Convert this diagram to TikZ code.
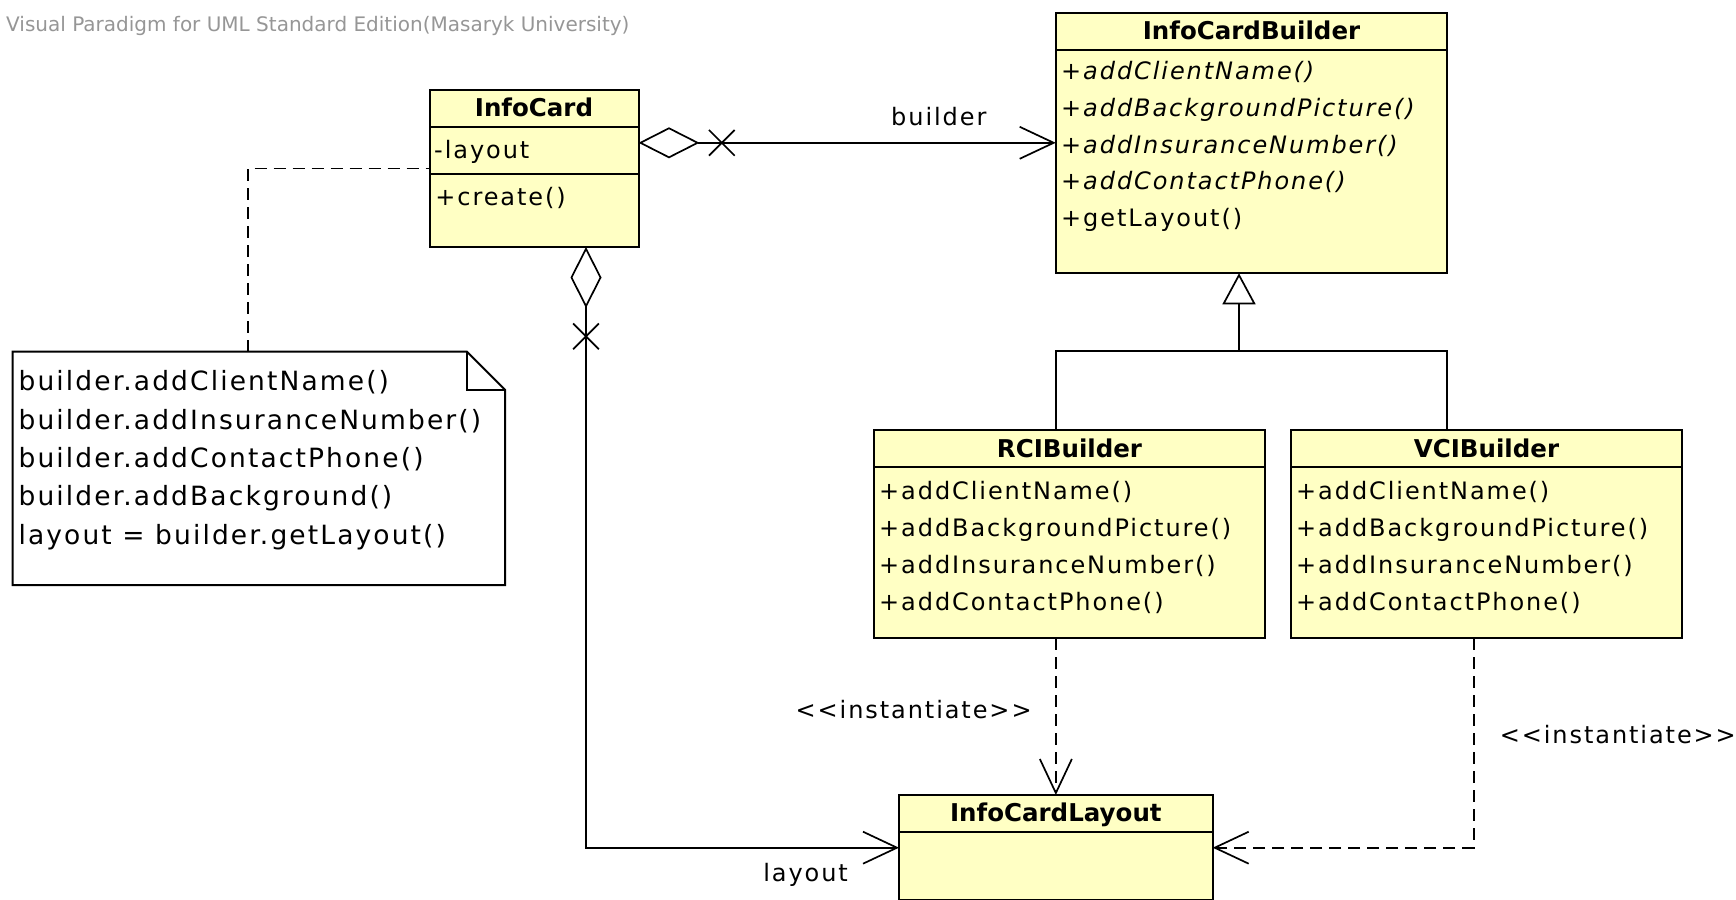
\documentclass[tikz,border=0pt]{standalone}
\usepackage{fontspec}
\usepackage{tikz}
\usetikzlibrary{arrows.meta,shapes.misc}
\newfontfamily\umlfont{DejaVu Sans}[LetterSpace=8]
\newfontfamily\umlhead{DejaVu Sans}
\definecolor{classyellow}{RGB}{255,255,196}
\definecolor{vpgray}{RGB}{150,150,150}
\tikzstyle{cls} = [draw=black, fill=classyellow, line width=2pt, inner sep=0pt, outer sep=0pt, anchor=north west]
\tikzstyle{clsname} = [font={\umlhead\bfseries\fontsize{24.5}{28}\selectfont}, inner sep=0pt, anchor=base]
\tikzstyle{member} = [font={\umlfont\fontsize{24}{36.8}\selectfont}, inner sep=0pt, anchor=base west, align=left]
\tikzstyle{lbl} = [font={\umlfont\fontsize{24}{28}\selectfont}, inner sep=0pt, anchor=base]
\tikzstyle{notetext} = [font={\umlfont\fontsize{26.5}{38.3}\selectfont}, inner sep=0pt, anchor=base west, align=left]
\tikzstyle{conn} = [line width=1.7pt]
\tikzstyle{nav} = [conn, -{Straight Barb[length=34pt,width=32pt]}]
\tikzstyle{dep} = [nav, dash pattern=on 12pt off 7pt]
\tikzstyle{aggr} = [conn, {Diamond[fill=white,length=61pt,width=31pt]}-{Straight Barb[length=34pt,width=32pt]}]
\tikzstyle{inherit} = [conn, -{Triangle[fill=white,length=31pt,width=33pt]}]
\tikzstyle{noteline} = [conn, dash pattern=on 12pt off 7pt]
\tikzstyle{xmark} = [cross out, draw, line width=1.7pt, minimum size=24pt, inner sep=0pt]

\begin{document}
\begin{tikzpicture}[x=1pt,y=-1pt]
  \useasboundingbox (0,0) rectangle (1736,899);
  \node[anchor=base west, inner sep=0pt, text=vpgray, font={\umlhead\fontsize{20}{24}\selectfont}] (vp) at (6,31.7) {Visual Paradigm for UML Standard Edition(Masaryk University)};

  % classes
  \node[cls, minimum width=209pt, minimum height=157pt] (card) at (429.5,90) {};
  \node[cls, minimum width=391.6pt, minimum height=260.6pt] (builder) at (1055.7,12.7) {};
  \node[cls, minimum width=391pt, minimum height=208.3pt] (rci) at (874,430) {};
  \node[cls, minimum width=391pt, minimum height=208.3pt] (vci) at (1291,430) {};
  \node[cls, minimum width=313.7pt, minimum height=105.4pt] (layout) at (899,795) {};

  % InfoCard
  \draw[line width=2pt] ([yshift=-36.7pt]card.north west) -- ([yshift=-36.7pt]card.north east);
  \draw[line width=2pt] ([yshift=-83.7pt]card.north west) -- ([yshift=-83.7pt]card.north east);
  \node[clsname] (cardname) at ([yshift=-26.7pt]card.north) {InfoCard};
  \node[member] (cardattr) at ([xshift=4.5pt,yshift=-68.3pt]card.north west) {-layout};
  \node[member] (cardops) at ([xshift=5.7pt,yshift=-115pt]card.north west) {+create()};

  % InfoCardBuilder
  \draw[line width=2pt] ([yshift=-37.3pt]builder.north west) -- ([yshift=-37.3pt]builder.north east);
  \node[clsname] (buildername) at ([yshift=-26.6pt]builder.north) {InfoCardBuilder};
  \node[member] (builderops) at ([xshift=5.3pt,yshift=-214pt]builder.north west) {\textit{+addClientName()}\\\textit{+addBackgroundPicture()}\\\textit{+addInsuranceNumber()}\\\textit{+addContactPhone()}\\+getLayout()};

  % RCIBuilder, VCIBuilder
  \draw[line width=2pt] ([yshift=-37pt]rci.north west) -- ([yshift=-37pt]rci.north east);
  \node[clsname] (rciname) at ([yshift=-27pt]rci.north) {RCIBuilder};
  \node[member] (rciops) at ([xshift=5pt,yshift=-180pt]rci.north west) {+addClientName()\\+addBackgroundPicture()\\+addInsuranceNumber()\\+addContactPhone()};
  \draw[line width=2pt] ([yshift=-37pt]vci.north west) -- ([yshift=-37pt]vci.north east);
  \node[clsname] (vciname) at ([yshift=-27pt]vci.north) {VCIBuilder};
  \node[member] (vciops) at ([xshift=5pt,yshift=-180pt]vci.north west) {+addClientName()\\+addBackgroundPicture()\\+addInsuranceNumber()\\+addContactPhone()};

  % InfoCardLayout
  \draw[line width=2pt] ([yshift=-36.7pt]layout.north west) -- ([yshift=-36.7pt]layout.north east);
  \node[clsname] (layoutname) at ([yshift=-26.7pt]layout.north) {InfoCardLayout};

  % note
  \node[anchor=north west, minimum width=492.3pt, minimum height=233.3pt, inner sep=0pt, outer sep=0pt] (note) at (12.7,351.7) {};
  \draw[line width=2pt, fill=white] (note.north west) -- ([xshift=-38pt]note.north east) -- ([yshift=-38pt]note.north east) -- (note.south east) -- (note.south west) -- cycle;
  \draw[line width=2pt] ([xshift=-38pt]note.north east) |- ([yshift=-38pt]note.north east);
  \node[notetext] (notebody) at ([xshift=5.7pt,yshift=-192.3pt]note.north west) {builder.addClientName()\\builder.addInsuranceNumber()\\builder.addContactPhone()\\builder.addBackground()\\layout = builder.getLayout()};
  \draw[noteline] ([xshift=235pt]note.north west) |- (card.west);

  % associations
  \coordinate (aggright) at ([yshift=-52.8pt]card.north east);
  \draw[aggr] (aggright) -- (aggright -| builder.west);
  \node[xmark] (xright) at ([xshift=83.3pt]aggright) {};
  \node[lbl] (buildertag) at (938.8,125) {builder};
  \coordinate (aggdown) at ([xshift=156.5pt]card.south west);
  \draw[aggr] (aggdown) |- (layout.west);
  \node[xmark] (xdown) at ([yshift=-89.4pt]aggdown) {};
  \node[lbl] (layouttag) at (805.6,881.7) {layout};

  % generalization
  \coordinate (hub) at (1239,350.7);
  \draw[inherit] (hub) -- (hub |- builder.south);
  \draw[conn] (rci.north -| builder.south west) |- (hub);
  \draw[conn] (vci.north -| builder.south east) |- (hub);

  % dependencies
  \draw[dep] (rci.south -| layout.north) -- (layout.north);
  \node[lbl] (instleft) at (913.6,718.3) {<{}<instantiate>{}>};
  \draw[dep] ([xshift=182.7pt]vci.south west) |- (layout.east);
  \node[lbl] (instright) at (1617.8,743.3) {<{}<instantiate>{}>};
\end{tikzpicture}
\end{document}
